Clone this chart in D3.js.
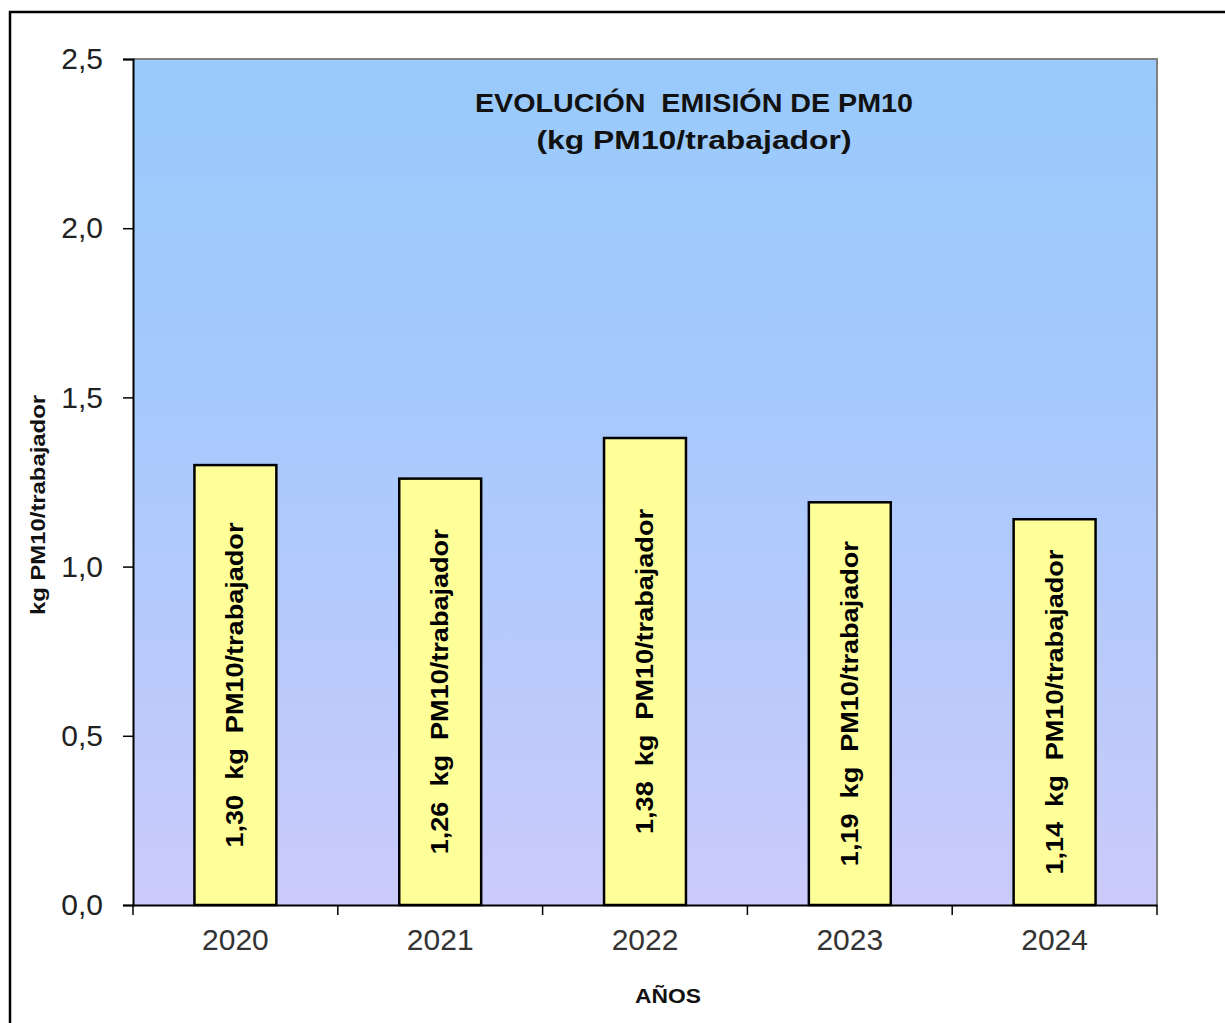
<!DOCTYPE html>
<html><head><meta charset="utf-8">
<script src="https://cdn.jsdelivr.net/npm/d3@7"></script>
<style>body{margin:0;background:#fff}svg{display:block}</style>
</head><body>
<svg id="c" width="1225" height="1023"></svg>
<script>
const years = ["2020","2021","2022","2023","2024"];
const values = [1.30, 1.26, 1.38, 1.19, 1.14];
const valueLabels = ["1,30","1,26","1,38","1,19","1,14"];
const yTicks = [0, 0.5, 1.0, 1.5, 2.0, 2.5];
const titleLines = ["EVOLUCIÓN  EMISIÓN DE PM10", "(kg PM10/trabajador)"];
const unitText = "kg  PM10/trabajador";
const yTitle = "kg PM10/trabajador";
const xTitle = "AÑOS";

const svg = d3.select("#c");
const L = 133, R = 1157, T = 59, B = 905;
const fmt = d => d.toFixed(1).replace(".", ",");
const FONT = "'Liberation Sans',Arial,sans-serif";

// outer frame
svg.append("rect").attr("x",10).attr("y",12).attr("width",1240).attr("height",1040)
  .attr("fill","none").attr("stroke","#000").attr("stroke-width",2.5);

const defs = svg.append("defs");
const g = defs.append("linearGradient").attr("id","bg").attr("x1",0).attr("y1",0).attr("x2",0).attr("y2",1);
g.append("stop").attr("offset","0%").attr("stop-color","#98cafb");
g.append("stop").attr("offset","40%").attr("stop-color","#a6c9fc");
g.append("stop").attr("offset","100%").attr("stop-color","#cbcbfb");

const x = d3.scaleBand().domain(years).range([L, R]).paddingInner(0.6).paddingOuter(0.3);
const xb = d3.scaleBand().domain(years).range([L, R]);
const y = d3.scaleLinear().domain([0, 2.5]).range([B, T]);

svg.append("rect").attr("x",L).attr("y",T).attr("width",R-L).attr("height",B-T).attr("fill","url(#bg)");
svg.append("path").attr("d",`M${L},${T}H${R}V${B}`).attr("fill","none").attr("stroke","#808080").attr("stroke-width",2);

// bars
svg.selectAll("rect.bar").data(years).enter().append("rect").attr("class","bar")
  .attr("x", d => x(d)).attr("width", x.bandwidth())
  .attr("y", (d,i) => y(values[i])).attr("height", (d,i) => B - y(values[i]))
  .attr("fill","#ffff99").attr("stroke","#000").attr("stroke-width",2.5);

// bar labels
svg.selectAll("text.bl").data(years).enter().append("text").attr("class","bl")
  .attr("transform", (d,i) => `translate(${x(d)+x.bandwidth()/2},${(y(values[i])+B)/2}) rotate(-90)`)
  .attr("text-anchor","middle").attr("dy","0.35em")
  .attr("textLength",325).attr("lengthAdjust","spacingAndGlyphs")
  .style("font-family",FONT).style("font-weight","bold").style("font-size","23px")
  .style("white-space","pre").attr("xml:space","preserve")
  .text((d,i) => valueLabels[i] + "  " + unitText);

// y axis
const ya = svg.append("g").attr("transform",`translate(${L},0)`)
  .call(d3.axisLeft(y).tickValues(yTicks).tickFormat(fmt).tickSize(10).tickPadding(20));
ya.select(".domain").attr("stroke","#000").attr("stroke-width",2);
ya.selectAll(".tick line").attr("stroke","#000").attr("stroke-width",1.5);
ya.selectAll(".tick text").style("font-family",FONT).style("font-size","30px").attr("fill","#222");

// x axis
const xa = svg.append("g").attr("transform",`translate(0,${B})`)
  .call(d3.axisBottom(xb).tickSize(0).tickPadding(24));
xa.select(".domain").attr("stroke","#000").attr("stroke-width",2);
xa.selectAll(".tick text").style("font-family",FONT).style("font-size","30px").attr("fill","#333");
const bounds = years.map(d => xb(d)).concat([R]);
xa.selectAll("line.sep").data(bounds).enter().append("line").attr("class","sep")
  .attr("x1",d=>d).attr("x2",d=>d).attr("y1",0).attr("y2",10).attr("stroke","#000").attr("stroke-width",1.5);

// title
const titleW = [438, 315];
svg.selectAll("text.title").data(titleLines).enter().append("text").attr("class","title")
  .attr("x",694).attr("y",(d,i)=>112+i*37).attr("text-anchor","middle")
  .attr("textLength",(d,i)=>titleW[i]).attr("lengthAdjust","spacingAndGlyphs")
  .attr("xml:space","preserve").style("white-space","pre")
  .style("font-family",FONT).style("font-weight","bold").style("font-size","25px").attr("fill","#111")
  .text(d=>d);

// axis titles
svg.append("text").attr("transform","translate(45,505) rotate(-90)").attr("text-anchor","middle")
  .attr("textLength",220).attr("lengthAdjust","spacingAndGlyphs")
  .style("font-family",FONT).style("font-weight","bold").style("font-size","21px").attr("fill","#111")
  .text(yTitle);
svg.append("text").attr("x",668).attr("y",1003).attr("text-anchor","middle")
  .attr("textLength",66).attr("lengthAdjust","spacingAndGlyphs")
  .style("font-family",FONT).style("font-weight","bold").style("font-size","21px").attr("fill","#111")
  .text(xTitle);
</script>
</body></html>
